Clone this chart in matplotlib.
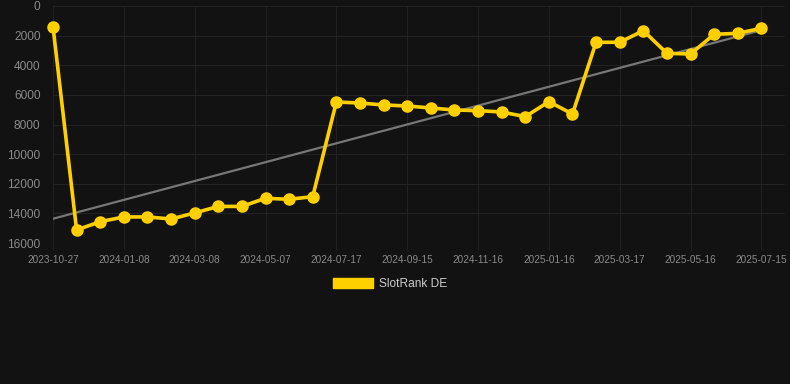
import matplotlib
matplotlib.use("Agg")

import numpy as np
import matplotlib.pyplot as plt
from matplotlib.patches import Patch

# SlotRank DE rank per snapshot (lower = better, axis inverted)
rank = [1400, 15120, 14560, 14240, 14240, 14380, 13970, 13530, 13530, 12980,
        13050, 12870, 6480, 6550, 6680, 6750, 6885, 7020, 7065, 7155,
        7470, 6460, 7290, 2450, 2450, 1665, 3195, 3240, 1912, 1845, 1507]

tick_labels = ["2023-10-27", "2024-01-08", "2024-03-08", "2024-05-07",
               "2024-07-17", "2024-09-15", "2024-11-16", "2025-01-16",
               "2025-03-17", "2025-05-16", "2025-07-15"]

y_ticks = [0, 2000, 4000, 6000, 8000, 10000, 12000, 14000, 16000]

bg = "#121212"
gold = "#FFD000"

plt.rcParams["font.family"] = ["Liberation Sans", "DejaVu Sans"]

x = np.arange(len(rank))

# linear trend of the series
slope, icpt = np.polyfit(x, rank, 1)
trend = slope * x + icpt

fig = plt.figure(figsize=(7.9, 3.84), dpi=100, facecolor=bg)
ax = fig.add_axes([53 / 790, 1 - 243 / 384, (785 - 53) / 790, (243 - 6) / 384])
ax.set_facecolor(bg)

ax.plot(x, trend, color="#777777", lw=1.6, zorder=2)
ax.plot(x, rank, color=gold, lw=2.6, marker="o", ms=8,
        markerfacecolor=gold, markeredgecolor=gold, zorder=3, clip_on=False)

ax.set_xlim(0, len(rank))
ax.set_ylim(16000, 0)

ax.set_xticks(x[::3])
ax.set_xticklabels(tick_labels, fontsize=7.2, color="#8a8a8a")
ax.set_yticks(y_ticks)
ax.set_yticklabels([str(v) for v in y_ticks], fontsize=8.6, color="#8a8a8a")

ax.grid(True, color="#222222", lw=0.8)
ax.tick_params(axis="x", length=5, color="#222222", pad=3.5)
ax.tick_params(axis="y", length=0, pad=9)
for s in ax.spines.values():
    s.set_visible(False)

handle = Patch(facecolor=gold, edgecolor=gold)
leg = fig.legend([handle], ["SlotRank DE"], loc="center",
                 bbox_to_anchor=(390 / 790, 1 - 284 / 384),
                 frameon=False, fontsize=8.6, handlelength=3.3,
                 handleheight=1.0, handletextpad=0.5)
for t in leg.get_texts():
    t.set_color("#cccccc")

fig.savefig("out.png", dpi=100, facecolor=bg)
